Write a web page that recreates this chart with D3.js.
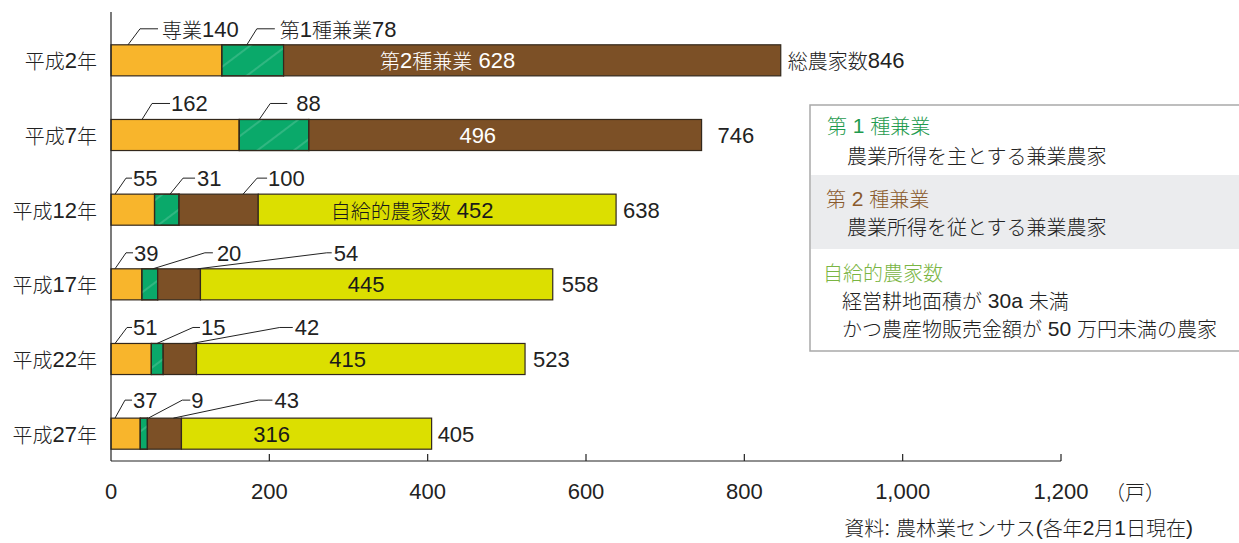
<!DOCTYPE html>
<html lang="ja">
<head>
<meta charset="utf-8">
<script src="https://cdn.jsdelivr.net/npm/d3@7"></script>
<style>
  html, body { margin: 0; padding: 0; background: #fff; }
  svg { display: block; font-family: "Liberation Sans", "Noto Sans CJK JP", sans-serif; }
  tspan.cjk { font-family: "Noto Sans CJK JP", sans-serif; font-weight: 300; }
</style>
</head>
<body>
<svg id="chart" width="1239" height="543"></svg>
<script>
// 農家数の推移（戸）
const categories = ["平成2年", "平成7年", "平成12年", "平成17年", "平成22年", "平成27年"];
const sengyo     = [140, 162, 55, 39, 51, 37];   // 専業
const kengyo1    = [78, 88, 31, 20, 15, 9];      // 第1種兼業
const kengyo2    = [628, 496, 100, 54, 42, 43];  // 第2種兼業
const jikyu      = [0, 0, 452, 445, 415, 316];   // 自給的農家数
const totals     = [846, 746, 638, 558, 523, 405];
const xTickValues = [0, 200, 400, 600, 800, 1000, 1200];
const xTickLabels = ["0", "200", "400", "600", "800", "1,000", "1,200"];

const seriesKeys   = ["sengyo", "kengyo1", "kengyo2", "jikyu"];
const seriesColors = ["#f8b52c", "#0aa96a", "#7c5026", "#dcdf00"];

const rows = categories.map((c, i) => ({
  cat: c, sengyo: sengyo[i], kengyo1: kengyo1[i], kengyo2: kengyo2[i], jikyu: jikyu[i], total: totals[i]
}));

const svg = d3.select("#chart");
const x = d3.scaleLinear().domain([0, 1200]).range([111, 1061]);
const y = d3.scaleBand().domain(categories).range([23, 471]).paddingInner(0.584).paddingOuter(0.292);

// Text helper: Latin digits run slightly larger than the Japanese glyphs
function rich(sel, str, cjkSize, latinSize) {
  const runs = str.match(/[\x20-\x7e]+|[^\x20-\x7e]+/g) || [];
  runs.forEach(r => {
    const ascii = /^[\x20-\x7e]+$/.test(r);
    sel.append("tspan").attr("class", ascii ? null : "cjk")
      .attr("font-size", ascii ? latinSize : cjkSize).text(r);
  });
  return sel;
}

// Hatch pattern for the 第1種兼業 segments
const defs = svg.append("defs");
const pat = defs.append("pattern").attr("id", "hatch").attr("patternUnits", "userSpaceOnUse")
  .attr("width", 30).attr("height", 22).attr("patternTransform", "rotate(-37)");
pat.append("line").attr("x1", 0).attr("x2", 30).attr("y1", 11).attr("y2", 11)
  .attr("stroke", "#ffffff").attr("stroke-opacity", 0.35).attr("stroke-width", 0.9);

const stacked = d3.stack().keys(seriesKeys)(rows);

// Bars
const gBars = svg.append("g");
stacked.forEach((layer, k) => {
  gBars.selectAll(null).data(layer.filter(d => d[1] - d[0] > 0)).enter().append("rect")
    .attr("x", d => x(d[0]))
    .attr("y", d => y(d.data.cat))
    .attr("width", d => x(d[1]) - x(d[0]))
    .attr("height", y.bandwidth())
    .attr("fill", seriesColors[k])
    .attr("stroke", "#33281c").attr("stroke-width", 1.2);
  if (k === 1) {
    gBars.selectAll(null).data(layer.filter(d => d[1] - d[0] > 0)).enter().append("rect")
      .attr("x", d => x(d[0]))
      .attr("y", d => y(d.data.cat))
      .attr("width", d => x(d[1]) - x(d[0]))
      .attr("height", y.bandwidth())
      .attr("fill", "url(#hatch)")
      .attr("stroke", "#33281c").attr("stroke-width", 1.2);
  }
});

// Axes
const axisY = 461;
const gAxis = svg.append("g").attr("stroke", "#222").attr("stroke-width", 1.2);
gAxis.append("line").attr("x1", x(0)).attr("x2", x(0)).attr("y1", 12).attr("y2", axisY);
gAxis.append("line").attr("x1", x(0)).attr("x2", x(1200)).attr("y1", axisY).attr("y2", axisY);
gAxis.selectAll(null).data(xTickValues.slice(1)).enter().append("line")
  .attr("x1", d => x(d)).attr("x2", d => x(d)).attr("y1", axisY).attr("y2", axisY - 7);

svg.append("g").selectAll(null).data(xTickValues).enter().append("text")
  .attr("x", d => x(d)).attr("y", 491)
  .attr("text-anchor", "middle").attr("dominant-baseline", "central")
  .attr("fill", "#222").attr("font-size", 22)
  .text((d, i) => xTickLabels[i]);

rich(svg.append("text").attr("x", 1105).attr("y", 491).attr("dominant-baseline", "central").attr("fill", "#222"),
  "（戸）", 20, 22);

// Category labels
svg.append("g").selectAll(null).data(categories).enter().append("text")
  .attr("x", 97).attr("y", d => y(d) + y.bandwidth() / 2)
  .attr("text-anchor", "end").attr("dominant-baseline", "central").attr("fill", "#222")
  .each(function (d) { rich(d3.select(this), d, 20, 22); });

// Totals at the bar ends
const totalGap = [7, 16, 7, 9, 8, 6];
svg.append("g").selectAll(null).data(rows).enter().append("text")
  .attr("x", (d, i) => x(d.total) + totalGap[i])
  .attr("y", d => y(d.cat) + y.bandwidth() / 2)
  .attr("dominant-baseline", "central").attr("fill", "#222")
  .each(function (d, i) { rich(d3.select(this), (i === 0 ? "総農家数" : "") + d.total, 20, 22); });

// Labels inside the largest segment
const innerSeg = [2, 2, 3, 3, 3, 3];
const innerPrefix = ["第2種兼業 ", "", "自給的農家数 ", "", "", ""];
const innerFrac = [0.33, 0.43, 0.43, 0.47, 0.46, 0.36];
rows.forEach((r, i) => {
  const seg = stacked[innerSeg[i]][i];
  const cx = x(seg[0]) + (x(seg[1]) - x(seg[0])) * innerFrac[i];
  const t = svg.append("text").attr("x", cx).attr("y", y(r.cat) + y.bandwidth() / 2)
    .attr("text-anchor", "middle").attr("dominant-baseline", "central")
    .attr("fill", innerSeg[i] === 2 ? "#ffffff" : "#1a1a1a");
  rich(t, innerPrefix[i] + r[seriesKeys[innerSeg[i]]], 20, 22);
});

// Leader-line callouts above the small segments: [segment, dx from segment start, elbow dx, run, text gap]
const callouts = [
  [[0, 17, 12, 18, 4, "専業"], [1, 25, 10, 18, 5, "第1種兼業"]],
  [[0, 31, 10, 18, 1, ""], [1, 20, 11, 17, 9, ""]],
  [[0, 4, 11, 6, 1, ""], [1, 15.5, 13, 12, 2, ""], [2, 64, 14, 10, 1, ""]],
  [[0, 4, 11, 7, 1, ""], [1, 11, 52, 8, 4, ""], [2, 40, 129, 5, 2, ""]],
  [[0, 4, 12, 5, 1, ""], [1, 5.6, 36, 7, 1, ""], [2, 28.5, 88, 13, 2, ""]],
  [[0, 4, 10, 7, 1, ""], [1, 8, 34, 8, 1, ""], [2, 26, 85, 14, 2, ""]]
];
const rise = [16, 16, 16, 16, 16, 18];
const gCall = svg.append("g");
callouts.forEach((list, i) => {
  const top = y(categories[i]);
  list.forEach(([k, dx, ex, run, tg, prefix]) => {
    const seg = stacked[k][i];
    const x0 = x(seg[0]) + dx;
    const x1 = x0 + ex, x2 = x1 + run, yy = top - rise[i];
    gCall.append("path")
      .attr("d", d3.line()([[x0, top], [x1, yy], [x2, yy]]))
      .attr("fill", "none").attr("stroke", "#222").attr("stroke-width", 1);
    const t = gCall.append("text").attr("x", x2 + tg).attr("y", yy)
      .attr("dominant-baseline", "central").attr("fill", "#222");
    rich(t, prefix + rows[i][seriesKeys[k]], 20, 22);
  });
});

// Definitions box
const lg = svg.append("g");
lg.append("rect").attr("x", 810).attr("y", 105).attr("width", 440).attr("height", 246)
  .attr("fill", "#fff").attr("stroke", "#a9a9a9").attr("stroke-width", 1.5);
lg.append("rect").attr("x", 811).attr("y", 175).attr("width", 440).attr("height", 74).attr("fill", "#ebecee");
const legendLines = [
  [827, 125, "第 1 種兼業", "#1f9b4e"],
  [847, 155, "農業所得を主とする兼業農家", "#222"],
  [826, 198, "第 2 種兼業", "#8a5a2c"],
  [847, 226, "農業所得を従とする兼業農家", "#222"],
  [823, 272, "自給的農家数", "#7ab543"],
  [842, 300, "経営耕地面積が 30a 未満", "#222"],
  [842, 328, "かつ農産物販売金額が 50 万円未満の農家", "#222"]
];
legendLines.forEach(([lx, ly, s, c]) => {
  rich(lg.append("text").attr("x", lx).attr("y", ly).attr("dominant-baseline", "central").attr("fill", c), s, 20, 21);
});

// Source note
rich(svg.append("text").attr("x", 1193).attr("y", 527).attr("text-anchor", "end")
  .attr("dominant-baseline", "central").attr("fill", "#222"),
  "資料: 農林業センサス(各年2月1日現在)", 20, 21);
</script>
</body>
</html>
